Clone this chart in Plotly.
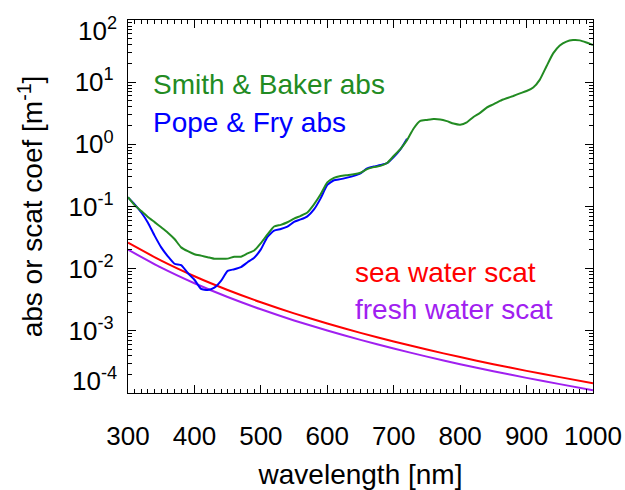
import math
import plotly.graph_objects as go

# ---------------- data ----------------
wl_abs = [300, 310, 320, 330, 340, 350, 360, 370, 380, 390, 400, 410, 420, 430, 440,
          450, 460, 470, 480, 490, 500, 510, 520, 530, 540, 550, 560, 570, 580, 590,
          600, 610, 620, 630, 640, 650, 660, 670, 680, 690, 700, 710, 720, 730, 740,
          750, 760, 770, 780, 790, 800, 810, 820, 830, 840, 850, 860, 870, 880, 890,
          900, 910, 920, 930, 940, 950, 960, 970, 980, 990, 1000]
smith_baker = [0.141, 0.105, 0.0844, 0.0678, 0.0561, 0.0463, 0.0379, 0.0300, 0.0220, 0.0191,
               0.0171, 0.0162, 0.0153, 0.0144, 0.0145, 0.0145, 0.0156, 0.0156, 0.0176, 0.0196,
               0.0257, 0.0357, 0.0477, 0.0507, 0.0558, 0.0638, 0.0708, 0.0799, 0.108, 0.157,
               0.244, 0.289, 0.309, 0.319, 0.329, 0.349, 0.400, 0.430, 0.450, 0.500,
               0.650, 0.839, 1.169, 1.799, 2.38, 2.47, 2.55, 2.51, 2.36, 2.16,
               2.07, 2.25, 2.75, 3.2, 3.9, 4.4, 5.0, 5.5, 6.0, 6.6,
               7.2, 8.2, 11.0, 18.0, 29.0, 39.0, 45.0, 47.5, 47.0, 43.5, 39.5]

wl_pf = [300, 310, 320, 330, 340, 350, 360, 370, 380, 390, 400, 410, 420, 430, 440,
         450, 460, 470, 480, 490, 500, 510, 520, 530, 540, 550, 560, 570, 580, 590,
         600, 610, 620, 630, 640, 650, 660, 670, 680, 690, 700, 710, 720]
pope_fry = [0.140, 0.108, 0.080, 0.055, 0.034, 0.022, 0.0158, 0.0120, 0.01137, 0.00851,
            0.00663, 0.00473, 0.00454, 0.00495, 0.00635, 0.00922, 0.00979, 0.0106, 0.0127, 0.0150,
            0.0204, 0.0325, 0.0409, 0.0434, 0.0474, 0.0565, 0.0619, 0.0695, 0.0896, 0.1351,
            0.2224, 0.2644, 0.2755, 0.2916, 0.3108, 0.340, 0.410, 0.439, 0.465, 0.500,
            0.624, 0.827, 1.231]

wl_scat = [300, 350, 400, 450, 500, 550, 600, 650, 700, 750, 800, 850, 900, 950, 1000]
sea_scat = [0.02617, 0.01345, 0.00755, 0.00454, 0.00288, 0.001908, 0.001310, 0.000927,
            0.000673, 0.000500, 0.000378, 0.000291, 0.000227, 0.000180, 0.000144]
fresh_scat = [0.0202, 0.01037, 0.00582, 0.00350, 0.00222, 0.00147, 0.00101, 0.000715,
              0.000519, 0.000385, 0.000291, 0.000224, 0.000175, 0.000139, 0.000111]

x_ticks = [300, 400, 500, 600, 700, 800, 900, 1000]
y_ticks = [1e-4, 1e-3, 1e-2, 1e-1, 1e0, 1e1, 1e2]
y_ticktext = ["10<sup>-4</sup>", "10<sup>-3</sup>", "10<sup>-2</sup>", "10<sup>-1</sup>",
              "10<sup>0</sup>", "10<sup>1</sup>", "10<sup>2</sup>"]

GREEN = "rgb(34,139,34)"
BLUE = "rgb(0,0,255)"
RED = "rgb(255,0,0)"
PURPLE = "rgb(160,32,240)"
FONT = "Liberation Sans, Arial, Helvetica, sans-serif"

fig = go.Figure()
fig.add_trace(go.Scatter(x=wl_scat, y=fresh_scat, mode="lines",
                         line=dict(color=PURPLE, width=2, shape="spline", smoothing=0.6)))
fig.add_trace(go.Scatter(x=wl_scat, y=sea_scat, mode="lines",
                         line=dict(color=RED, width=2, shape="spline", smoothing=0.6)))
fig.add_trace(go.Scatter(x=wl_pf, y=pope_fry, mode="lines",
                         line=dict(color=BLUE, width=2, shape="spline", smoothing=0.5)))
fig.add_trace(go.Scatter(x=wl_abs, y=smith_baker, mode="lines",
                         line=dict(color=GREEN, width=2, shape="spline", smoothing=0.5)))

minor_y = [m * 10.0 ** e for e in range(-4, 2) for m in range(2, 10)]

# the end labels of the y axis are nudged inward (as in the original), drawn as annotations
axis_ticktext = [""] + y_ticktext[1:-1] + [""]

fig.update_xaxes(range=[300, 1000], tickmode="array", tickvals=x_ticks,
                 ticks="inside", ticklen=8, tickwidth=1, tickcolor="black",
                 minor=dict(dtick=10, tick0=300, ticks="inside", ticklen=4, tickcolor="black",
                            showgrid=False),
                 showline=True, linecolor="black", linewidth=1.2, mirror="allticks",
                 showgrid=False, zeroline=False, ticklabelstandoff=20, automargin=False,
                 tickfont=dict(size=26, color="black", family=FONT),
                 title=dict(text="wavelength [nm]", font=dict(size=28, color="black", family=FONT),
                            standoff=14))
fig.update_yaxes(type="log", range=[-4, 2], tickmode="array", tickvals=y_ticks,
                 ticktext=axis_ticktext,
                 ticks="inside", ticklen=8, tickwidth=1, tickcolor="black",
                 minor=dict(tickvals=minor_y, ticks="inside", ticklen=4, tickcolor="black",
                            showgrid=False),
                 showline=True, linecolor="black", linewidth=1.2, mirror="allticks",
                 showgrid=False, zeroline=False, ticklabelstandoff=8, automargin=False,
                 tickfont=dict(size=26, color="black", family=FONT),
                 title=dict(text="abs or scat coef [m<sup>-1</sup>]",
                            font=dict(size=28, color="black", family=FONT), standoff=17))

for val, txt, ysh in [(y_ticks[0], y_ticktext[0], 14), (y_ticks[-1], y_ticktext[-1], -9)]:
    fig.add_annotation(text=txt, x=0, xref="paper", y=math.log10(val), yref="y",
                       xanchor="right", yanchor="middle", xshift=-9, yshift=ysh,
                       showarrow=False, font=dict(size=26, color="black", family=FONT))

ann = [("Smith & Baker abs", GREEN, 0.05, 0.826),
       ("Pope & Fry abs", BLUE, 0.05, 0.7265),
       ("sea water scat", RED, 0.484, 0.322),
       ("fresh water scat", PURPLE, 0.484, 0.225)]
for txt, col, xp, yp in ann:
    fig.add_annotation(text=txt, x=xp, y=yp, xref="paper", yref="paper",
                       xanchor="left", yanchor="middle", showarrow=False,
                       font=dict(size=28, color=col, family=FONT))

fig.update_layout(width=625, height=490, margin=dict(l=128, r=32, t=20, b=97),
                  paper_bgcolor="white", plot_bgcolor="white", showlegend=False)

fig.write_html("out.html")
